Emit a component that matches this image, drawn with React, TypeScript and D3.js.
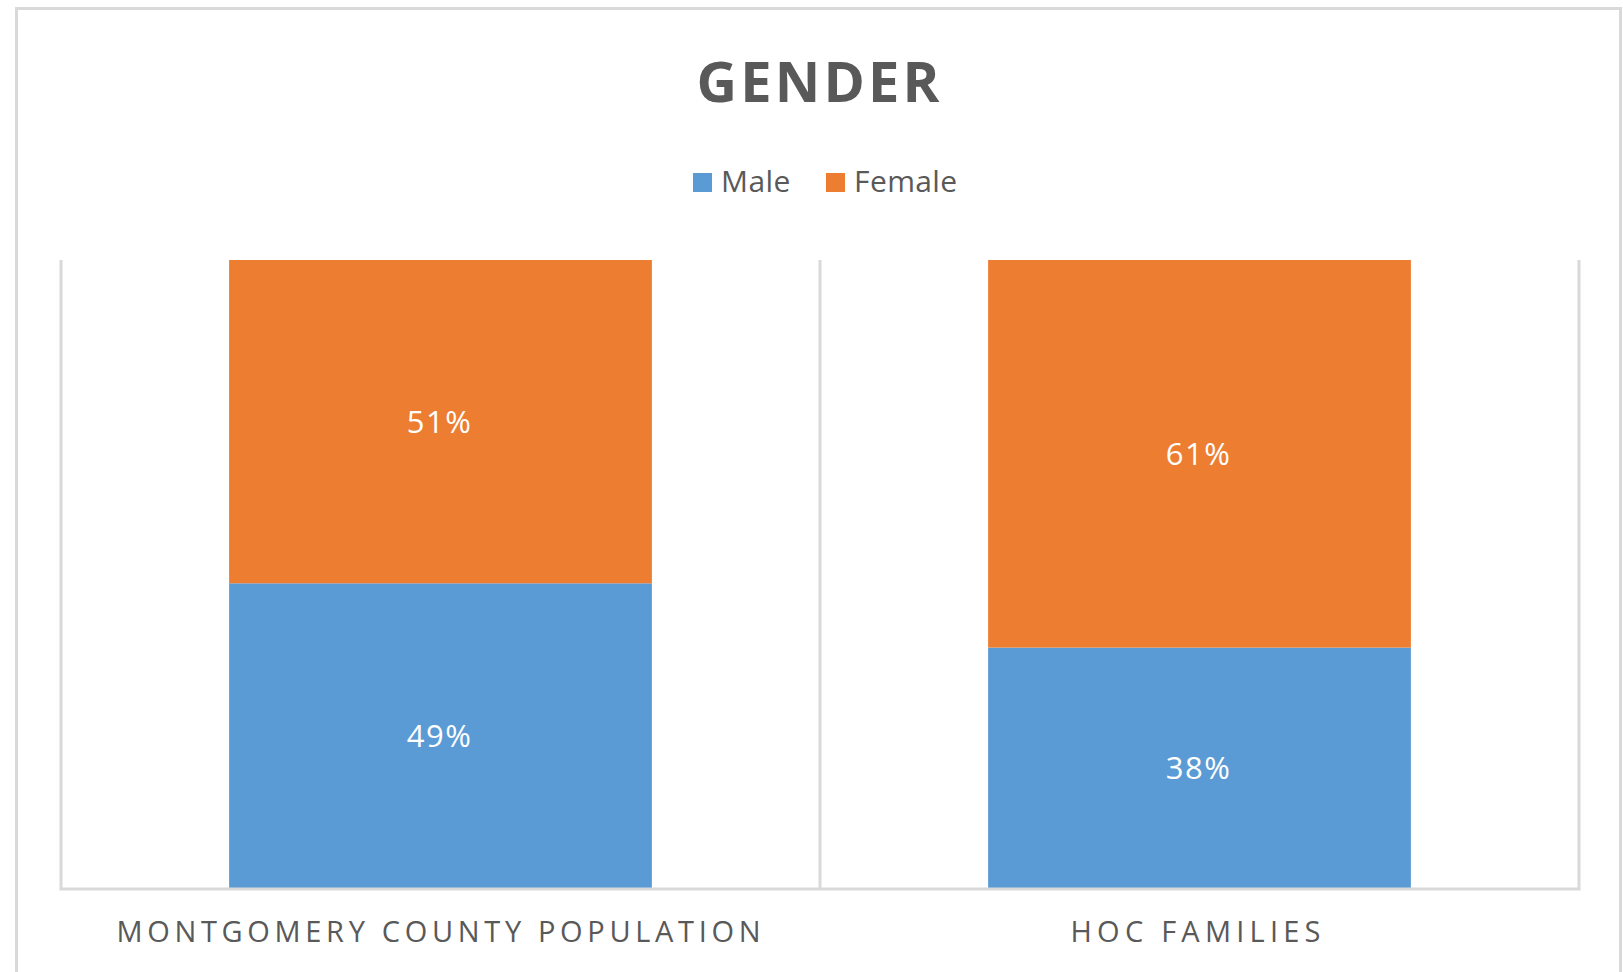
import React, { useEffect } from "react";
import * as d3 from "d3";

const categories = ["MONTGOMERY COUNTY POPULATION", "HOC FAMILIES"];
const seriesNames = ["Male", "Female"];
const maleValues = [48.6, 38];
const femaleValues = [51.4, 61];
const colors = ["#5B9BD5", "#ED7D31"];
const title = "GENDER";

const W = 1623;
const H = 972;
const plot = { left: 61, right: 1579, top: 260, bottom: 889 };
const FONT = "'Open Sans', 'Liberation Sans', sans-serif";

export default function App() {
  useEffect(() => {
    document.body.style.margin = "0";
    document.body.style.overflow = "hidden";
  }, []);

  const rows = categories.map((c, i) => ({ cat: c, Male: maleValues[i], Female: femaleValues[i] }));
  const stack = d3.stack<any>().keys(seriesNames).offset(d3.stackOffsetExpand);
  const layers = stack(rows);

  const x = d3
    .scaleBand<string>()
    .domain(categories)
    .range([plot.left, plot.right])
    .paddingInner(0.443)
    .paddingOuter(0.2215);
  const xCat = d3.scaleBand<string>().domain(categories).range([plot.left, plot.right]).padding(0);
  const y = d3.scaleLinear().domain([0, 1]).range([plot.bottom, plot.top]);

  const labelLengths: Record<string, number> = {
    "MONTGOMERY COUNTY POPULATION": 644,
    "HOC FAMILIES": 250,
  };
  const labelShift: Record<string, number> = {
    "MONTGOMERY COUNTY POPULATION": -2,
    "HOC FAMILIES": -4,
  };

  const gridX = [plot.left, ...categories.map((c) => (xCat(c) as number) + xCat.bandwidth())];

  const raw = [maleValues, femaleValues];

  return (
    <svg width={W} height={H} style={{ display: "block", background: "#fff" }}>
      <rect x={16.5} y={8.5} width={1604} height={990} fill="#fff" stroke="#d9d9d9" strokeWidth={3} />
      <text
        x={818}
        y={102}
        textAnchor="middle"
        fontFamily={FONT}
        fontWeight={700}
        fontSize={56}
        fill="#595959"
        textLength={243}
        lengthAdjust="spacing"
      >
        {title}
      </text>
      {/* legend */}
      {seriesNames.map((s, i) => {
        const lx = [693, 826][i];
        return (
          <g key={s}>
            <rect x={lx} y={173} width={19} height={19} fill={colors[i]} />
            <text x={lx + 28} y={192} fontFamily={FONT} fontSize={30} fill="#595959" letterSpacing={0.4}>
              {s}
            </text>
          </g>
        );
      })}
      {/* gridlines */}
      {gridX.map((gx, i) => (
        <line key={i} x1={gx} x2={gx} y1={plot.top} y2={plot.bottom} stroke="#d9d9d9" strokeWidth={3} />
      ))}
      {/* bars */}
      {layers.map((layer, si) => (
        <g key={layer.key}>
          {layer.map((d, ci) => {
            const cat = categories[ci];
            const y0 = y(d[0]);
            const y1 = y(d[1]);
            return (
              <g key={cat}>
                <rect x={x(cat)} y={y1} width={x.bandwidth()} height={y0 - y1} fill={colors[si]} />
                <text
                  x={(x(cat) as number) + x.bandwidth() / 2 - 1}
                  y={(y0 + y1) / 2 + 11}
                  textAnchor="middle"
                  fontFamily={FONT}
                  fontSize={31}
                  letterSpacing={1.5}
                  fill="#ffffff"
                >
                  {Math.round(raw[si][ci]) + "%"}
                </text>
              </g>
            );
          })}
        </g>
      ))}
      <line x1={plot.left - 1.5} x2={plot.right + 1.5} y1={plot.bottom} y2={plot.bottom} stroke="#d9d9d9" strokeWidth={3} />
      {/* category labels */}
      {categories.map((c) => (
        <text
          key={c}
          x={(x(c) as number) + x.bandwidth() / 2 + labelShift[c]}
          y={942}
          textAnchor="middle"
          fontFamily={FONT}
          fontSize={29}
          fill="#595959"
          textLength={labelLengths[c]}
          lengthAdjust="spacing"
        >
          {c}
        </text>
      ))}
    </svg>
  );
}
